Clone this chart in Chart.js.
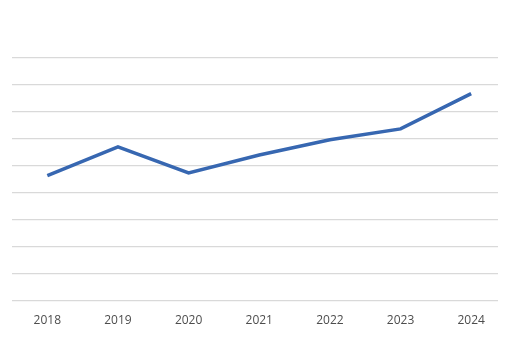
<!DOCTYPE html>
<html>
<head>
<meta charset="utf-8">
<script src="https://cdn.jsdelivr.net/npm/chart.js@4/dist/chart.umd.min.js"></script>
<style>
    html, body { margin: 0; padding: 0; background: #fff; }
    #wrap { width: 505px; height: 348px; }
</style>
</head>
<body>
<div id="wrap"><canvas id="grafica"></canvas></div>
<script>
// años y valores
const years = [2018, 2019, 2020, 2021, 2022, 2023, 2024];
const values = [4.64, 5.70, 4.74, 5.40, 5.97, 6.37, 7.68];

// armar los puntos para la escala lineal
const points = years.map((y, i) => ({ x: y, y: values[i] }));

const element = document.getElementById('grafica').getContext('2d');
const graph = new Chart(element, {
    type: 'line',
    data: {
        datasets: [{
            data: points,
            borderColor: '#3767b1',
            borderWidth: 3.5,
            pointRadius: 0,
            tension: 0,
            fill: false
        }]
    },
    options: {
        responsive: true,
        maintainAspectRatio: false,
        animation: false,
        layout: { padding: { left: 12, right: 7, top: 58, bottom: 7 } },
        plugins: {
            legend: { display: false },
            tooltip: { enabled: false }
        },
        scales: {
            x: {
                type: 'linear',
                min: 2017.5,
                max: 2024.38,
                grid: { display: false, drawTicks: false },
                border: { display: false },
                ticks: {
                    stepSize: 1,
                    includeBounds: false,
                    padding: 13,
                    color: '#4d4d4d',
                    font: { family: 'Open Sans', size: 12 },
                    callback: v => String(v)
                }
            },
            y: {
                min: 0,
                max: 9,
                grid: { color: '#d9d9d9', lineWidth: 1.2, drawTicks: false },
                border: { display: false },
                ticks: { display: false, stepSize: 1 }
            }
        }
    }
});
</script>
</body>
</html>
